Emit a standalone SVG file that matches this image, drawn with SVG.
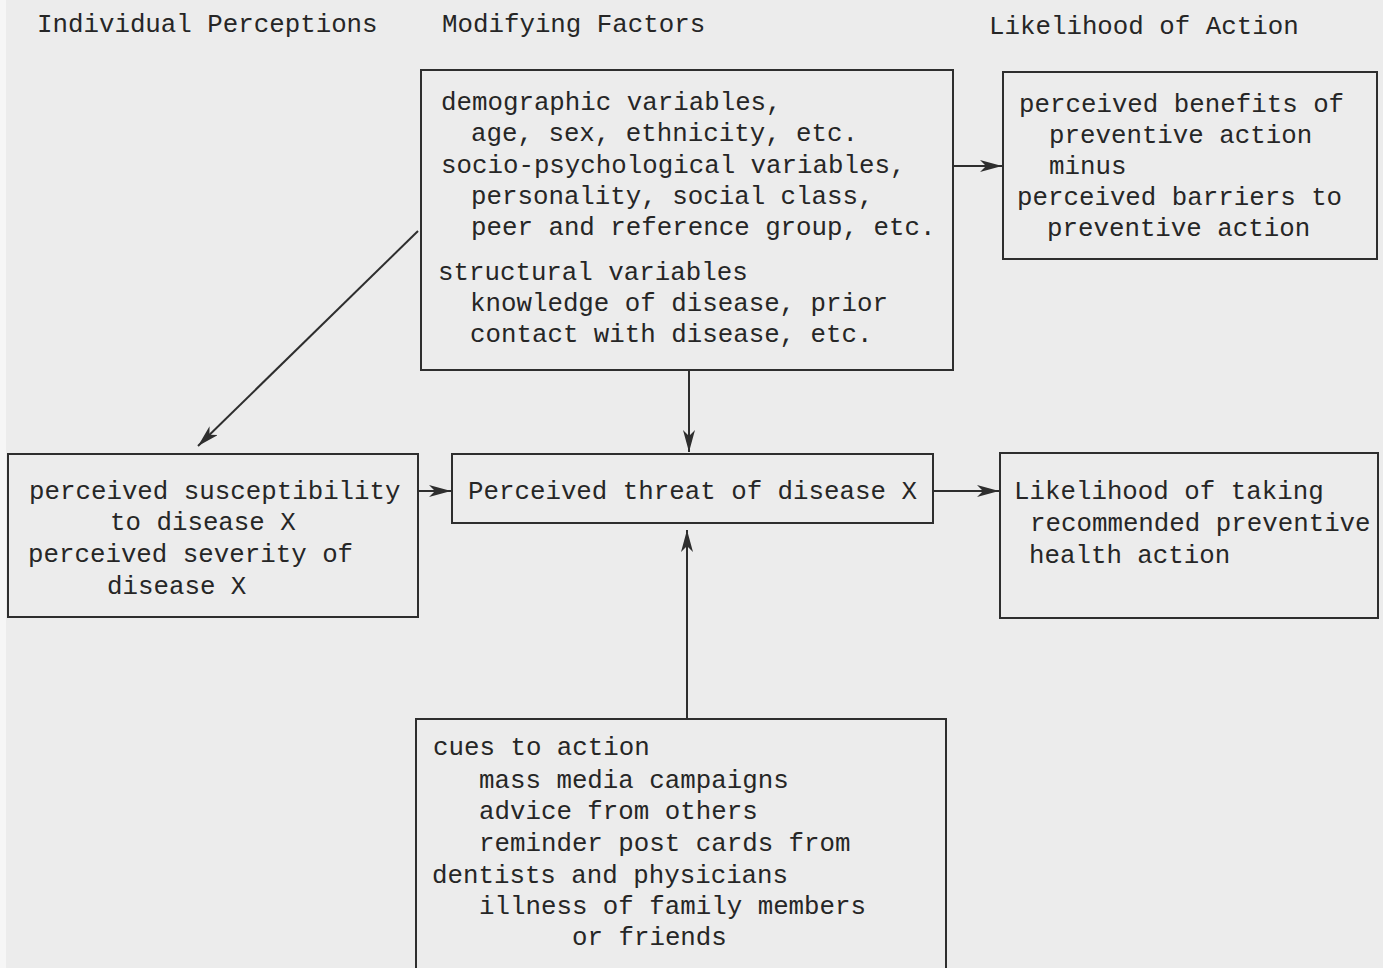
<svg xmlns="http://www.w3.org/2000/svg" width="1383" height="968" viewBox="0 0 1383 968">
<style>
.bg{fill:#ececec}
.box{fill:none;stroke:#2e2e2e;stroke-width:2}
.t{font-family:"Liberation Mono","DejaVu Sans Mono",monospace;font-size:25.8px;fill:#262626}
.c{stroke:#2e2e2e;stroke-width:2;fill:none}
</style>
<defs>
<marker id="ah" viewBox="0 0 22 12" refX="22" refY="6" markerWidth="22" markerHeight="12" markerUnits="userSpaceOnUse" orient="auto">
<path d="M0,0 L22,6 L0,12 L6,6 Z" fill="#2e2e2e"/>
</marker>
</defs>
<rect class="bg" x="0" y="0" width="1383" height="968"/>
<rect x="0" y="0" width="6" height="968" fill="#f6f6f6"/>
<g id="headers">
<text class="t" x="37" y="32">Individual Perceptions</text>
<text class="t" x="442" y="32">Modifying Factors</text>
<text class="t" x="989" y="34">Likelihood of Action</text>
</g>
<g id="modifying">
<rect class="box" x="421" y="70" width="532" height="300"/>
<text class="t" x="441" y="110">demographic variables,</text>
<text class="t" x="471" y="141">age, sex, ethnicity, etc.</text>
<text class="t" x="441" y="173">socio-psychological variables,</text>
<text class="t" x="471" y="204">personality, social class,</text>
<text class="t" x="471" y="235">peer and reference group, etc.</text>
<text class="t" x="438" y="280">structural variables</text>
<text class="t" x="470" y="311">knowledge of disease, prior</text>
<text class="t" x="470" y="342">contact with disease, etc.</text>
</g>
<g id="benefits">
<rect class="box" x="1003" y="72" width="374" height="187"/>
<text class="t" x="1019" y="112">perceived benefits of</text>
<text class="t" x="1049" y="143">preventive action</text>
<text class="t" x="1049" y="174">minus</text>
<text class="t" x="1017" y="205">perceived barriers to</text>
<text class="t" x="1047" y="236">preventive action</text>
</g>
<g id="perceptions">
<rect class="box" x="8" y="454" width="410" height="163"/>
<text class="t" x="29" y="499">perceived susceptibility</text>
<text class="t" x="110" y="530">to disease X</text>
<text class="t" x="28" y="562">perceived severity of</text>
<text class="t" x="107" y="594">disease X</text>
</g>
<g id="threat">
<rect class="box" x="452" y="454" width="481" height="69"/>
<text class="t" x="468" y="499">Perceived threat of disease X</text>
</g>
<g id="likelihood">
<rect class="box" x="1000" y="453" width="378" height="165"/>
<text class="t" x="1014" y="499">Likelihood of taking</text>
<text class="t" x="1030" y="531">recommended preventive</text>
<text class="t" x="1029" y="563">health action</text>
</g>
<g id="cues">
<rect class="box" x="416" y="719" width="530" height="260"/>
<text class="t" x="433" y="755">cues to action</text>
<text class="t" x="479" y="788">mass media campaigns</text>
<text class="t" x="479" y="819">advice from others</text>
<text class="t" x="479" y="851">reminder post cards from</text>
<text class="t" x="432" y="883">dentists and physicians</text>
<text class="t" x="479" y="914">illness of family members</text>
<text class="t" x="572" y="945">or friends</text>
</g>
<g id="connectors">
<line class="c" x1="953" y1="166" x2="1002" y2="166" marker-end="url(#ah)"/>
<line class="c" x1="418" y1="231" x2="198" y2="446" marker-end="url(#ah)"/>
<line class="c" x1="689" y1="370" x2="689" y2="452" marker-end="url(#ah)"/>
<line class="c" x1="418" y1="491" x2="451" y2="491" marker-end="url(#ah)"/>
<line class="c" x1="933" y1="491" x2="999" y2="491" marker-end="url(#ah)"/>
<line class="c" x1="687" y1="719" x2="687" y2="530" marker-end="url(#ah)"/>
</g>
</svg>
